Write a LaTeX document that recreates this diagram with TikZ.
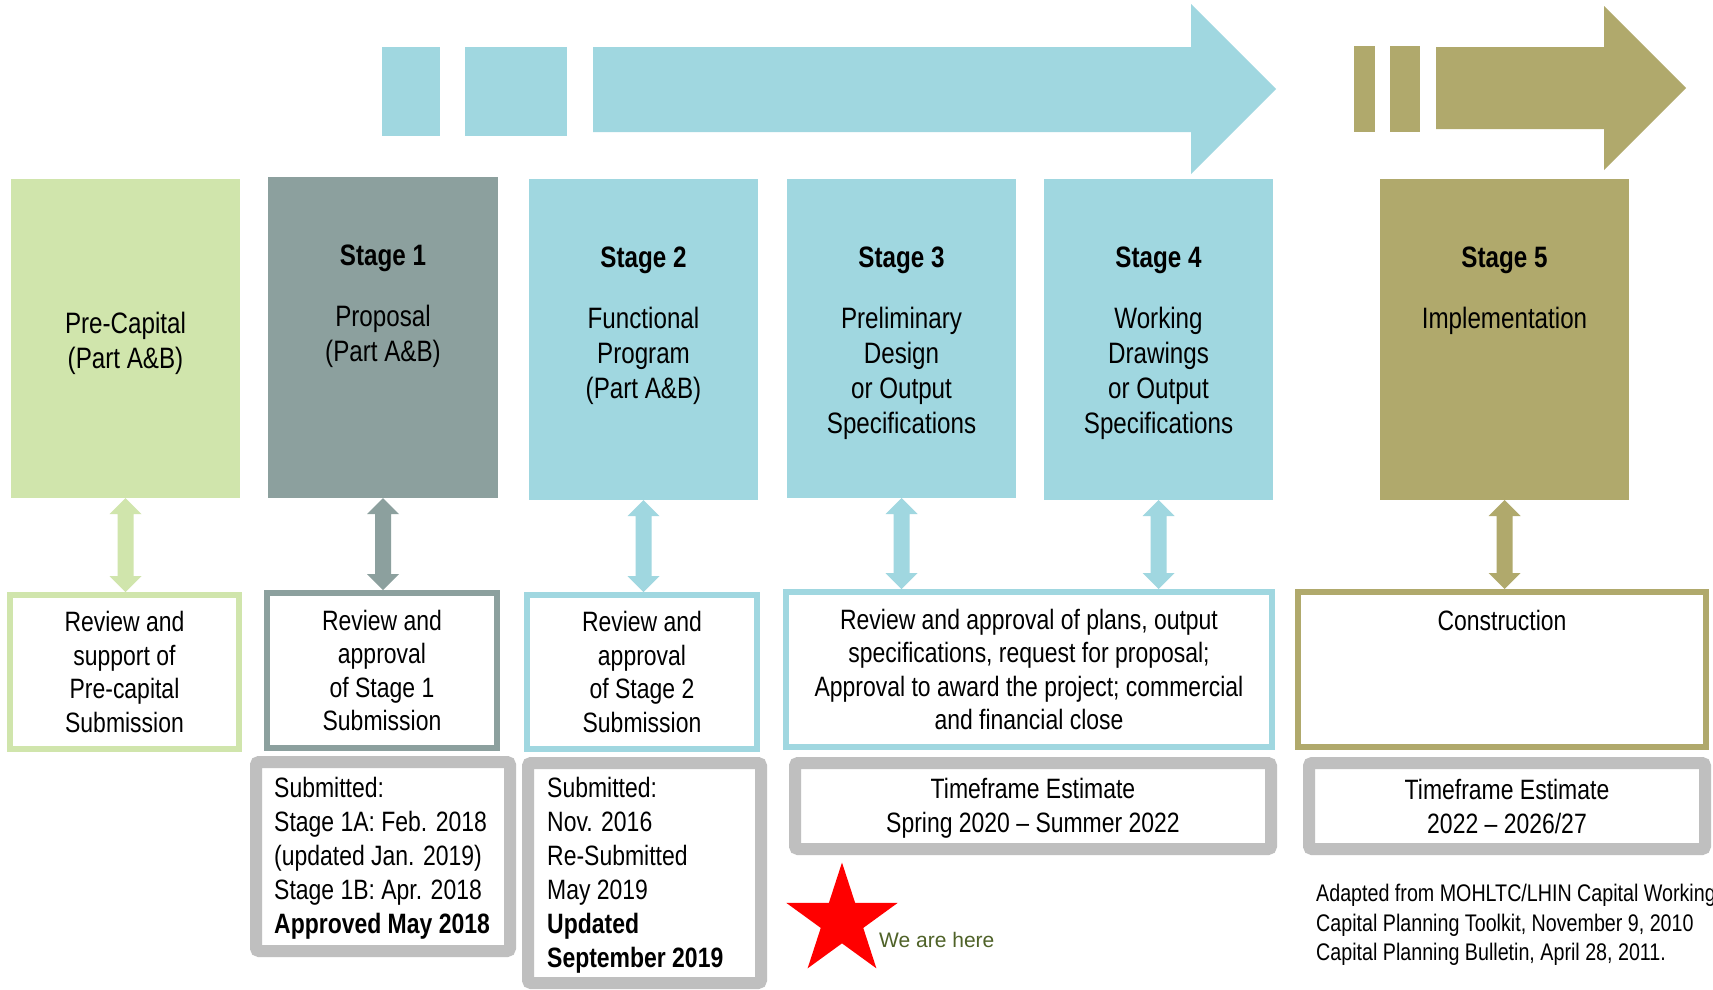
\documentclass[tikz,border=0pt]{standalone}
\usepackage{fontspec}
\setmainfont{Liberation Sans}[FakeStretch=0.82]
\newfontfamily\regfont{Liberation Sans}
\usetikzlibrary{shapes.geometric,calc}

\definecolor{cyanc}{HTML}{A0D7E0}
\definecolor{olivec}{HTML}{B0A96C}
\definecolor{greenc}{HTML}{D0E5AC}
\definecolor{grayc}{HTML}{8CA09E}
\definecolor{boxgray}{HTML}{BFBFBF}
\definecolor{heregreen}{HTML}{4F6228}

\newcommand\stagefont{\fontsize{29.5}{35}\selectfont}
\newcommand\revfont{\fontsize{28}{33.5}\selectfont}
\newcommand\subfont{\fontsize{28}{34}\selectfont}

\newcommand\dblarrow[3]{%
  \fill[#1] let \p1=(#2), \p2=(#3) in
    (\x1,\y1) -- ({\x1+16pt},{\y1-16pt}) -- ({\x1+8pt},{\y1-16pt})
    -- ({\x1+8pt},{\y2+16pt}) -- ({\x1+16pt},{\y2+16pt}) -- (\x1,\y2)
    -- ({\x1-16pt},{\y2+16pt}) -- ({\x1-8pt},{\y2+16pt})
    -- ({\x1-8pt},{\y1-16pt}) -- ({\x1-16pt},{\y1-16pt}) -- cycle;}

\begin{document}
\begin{tikzpicture}[x=1pt,y=-1pt,
  stagebox/.style={rectangle, fill=#1, draw=none, inner sep=0pt, outer sep=0pt, align=center, font=\stagefont},
  revbox/.style={rectangle, draw=#1, line width=6pt, fill=white, inner sep=0pt, align=center, font=\revfont},
  graybox/.style={rectangle, draw=boxgray, line width=12pt, rounded corners=3pt, fill=white, inner sep=0pt, align=center, font=\subfont},
  stagetxt/.style={anchor=north, align=center, inner sep=0pt, font=\stagefont},
  subtxt/.style={anchor=west, align=left, inner sep=0pt, font=\subfont},
]
\useasboundingbox (0,0) rectangle (1713,989);
\fill[white] (0,0) rectangle (1713,989);

% top arrows
\fill[cyanc] (382,47) rectangle (440,136);
\fill[cyanc] (465,47) rectangle (567,136);
\fill[cyanc] (593,47) -- (1191,47) -- (1191,4) -- (1276,89) -- (1191,174) -- (1191,132) -- (593,132) -- cycle;
\fill[olivec] (1354,46) rectangle (1375,132);
\fill[olivec] (1390,46) rectangle (1420,132);
\fill[olivec] (1436,47) -- (1604,47) -- (1604,6) -- (1686,88) -- (1604,170) -- (1604,129) -- (1436,129) -- cycle;

% stage boxes
\node[stagebox=greenc, minimum width=229pt, minimum height=319pt] (s0) at (125.5,338.5) {};
\node[stagebox=grayc, minimum width=230pt, minimum height=321pt] (s1) at (383,337.5) {};
\node[stagebox=cyanc, minimum width=229pt, minimum height=321pt] (s2) at (643.5,339.5) {};
\node[stagebox=cyanc, minimum width=229pt, minimum height=319pt] (s3) at (901.5,338.5) {};
\node[stagebox=cyanc, minimum width=229pt, minimum height=321pt] (s4) at (1158.5,339.5) {};
\node[stagebox=olivec, minimum width=249pt, minimum height=321pt] (s5) at (1504.5,339.5) {};

\node[align=center, inner sep=0pt, font=\stagefont] (s0t) at (125.5,343) {Pre-Capital\\(Part A\&B)};
\node[stagetxt] (s1t) at (383,241) {\strut\textbf{Stage 1}\\[26pt]Proposal\\(Part A\&B)};
\node[stagetxt] (s2t) at (643.5,243) {\strut\textbf{Stage 2}\\[26pt]Functional\\Program\\(Part A\&B)};
\node[stagetxt] (s3t) at (901.5,243) {\strut\textbf{Stage 3}\\[26pt]Preliminary\\Design\\or Output\\Specifications};
\node[stagetxt] (s4t) at (1158.5,243) {\strut\textbf{Stage 4}\\[26pt]Working\\Drawings\\or Output\\Specifications};
\node[stagetxt] (s5t) at (1504.5,243) {\strut\textbf{Stage 5}\\[26pt]Implementation};

% review boxes
\node[revbox=greenc, minimum width=229pt, minimum height=154pt] (r0) at (124.5,672) {Review and\\support of\\Pre-capital\\Submission};
\node[revbox=grayc, minimum width=230pt, minimum height=155pt] (r1) at (382,670.5) {Review and\\approval\\of Stage 1\\Submission};
\node[revbox=cyanc, minimum width=230pt, minimum height=154pt] (r2) at (642,672) {Review and\\approval\\of Stage 2\\Submission};
\node[revbox=cyanc, minimum width=486pt, minimum height=155pt] (r34) at (1029,669.5) {Review and approval of plans, output\\specifications, request for proposal;\\Approval to award the project; commercial\\and financial close};
\node[revbox=olivec, minimum width=408pt, minimum height=155pt] (r5) at (1502,669.5) {};
\node[anchor=base, inner sep=0pt, font=\revfont] (r5t) at (1502,630) {Construction};

% double arrows
\dblarrow{greenc}{s0.south}{r0.north}
\dblarrow{grayc}{s1.south}{r1.north}
\dblarrow{cyanc}{s2.south}{r2.north}
\dblarrow{cyanc}{s3.south}{s3.south |- r34.north}
\dblarrow{cyanc}{s4.south}{s4.south |- r34.north}
\dblarrow{olivec}{s5.south}{s5.south |- r5.north}

% gray boxes
\node[graybox, minimum width=254pt, minimum height=189pt] (g1) at (383,856.5) {};
\node[subtxt] (g1t) at (274,858) {Submitted:\\Stage 1A: Feb. 2018\\(updated Jan. 2019)\\Stage 1B: Apr. 2018\\\textbf{Approved May 2018}};
\node[graybox, minimum width=233pt, minimum height=220pt] (g2) at (644.5,873) {};
\node[subtxt] (g2t) at (547,875) {Submitted:\\Nov. 2016\\Re-Submitted\\May 2019\\\textbf{Updated}\\\textbf{September 2019}};
\node[graybox, minimum width=476pt, minimum height=86pt] (g34) at (1033,806) {};
\node[align=center, inner sep=0pt, font=\subfont] (g34t) at (1033,808) {Timeframe Estimate\\Spring 2020 \textendash{} Summer 2022};
\node[graybox, minimum width=396pt, minimum height=86pt] (g5) at (1507,806) {Timeframe Estimate\\2022 \textendash{} 2026/27};

% star
\node[star, star points=5, star point ratio=2.618, fill=red, draw=none, inner sep=0pt, minimum size=117pt] (star) at (842,921) {};
\node[anchor=west, inner sep=0pt, font={\regfont\fontsize{21}{25}\selectfont}, text=heregreen] (here) at (879,940) {We are here};

% citation
\node[anchor=west, align=left, inner sep=0pt, font=\fontsize{24}{29.5}\selectfont] (cite) at (1316,925) {Adapted from MOHLTC/LHIN Capital Working\\Capital Planning Toolkit, November 9, 2010\\Capital Planning Bulletin, April 28, 2011.};
\end{tikzpicture}
\end{document}
